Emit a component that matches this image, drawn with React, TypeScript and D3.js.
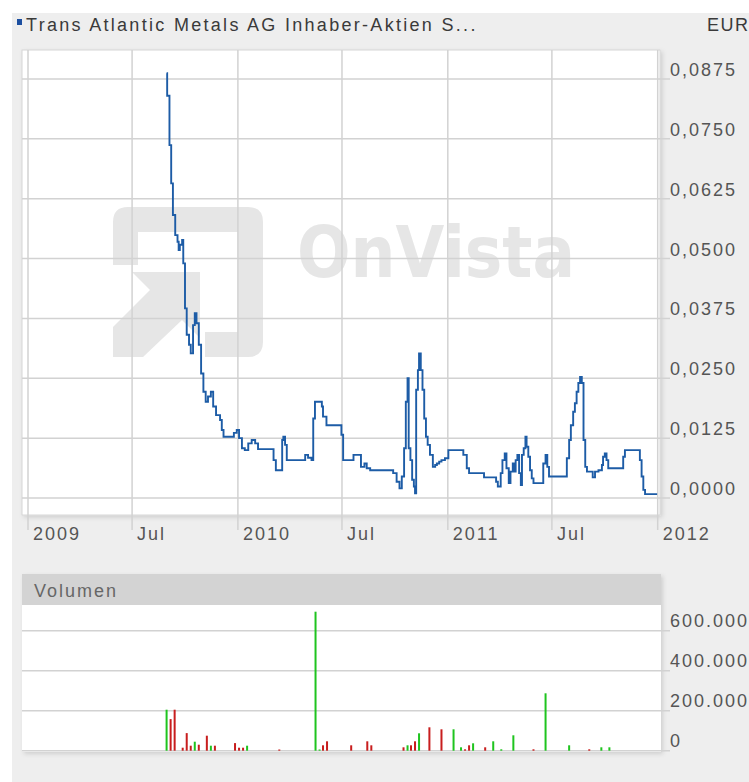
import React from 'react';
import * as d3 from 'd3';

// price series (step line), EUR
const priceDates = [
  '2009-08-30', '2009-08-31', '2009-09-04', '2009-09-07', '2009-09-10', '2009-09-14', '2009-09-18', '2009-09-20',
  '2009-09-22', '2009-09-26', '2009-09-28', '2009-10-01', '2009-10-04', '2009-10-08', '2009-10-11', '2009-10-15',
  '2009-10-18', '2009-10-21', '2009-10-25', '2009-10-29', '2009-11-02', '2009-11-06', '2009-11-10', '2009-11-15',
  '2009-11-19', '2009-11-24', '2009-12-01', '2009-12-04', '2009-12-07', '2009-12-25', '2009-12-30', '2010-01-03',
  '2010-01-08', '2010-01-13', '2010-01-19', '2010-01-25', '2010-01-31', '2010-02-05', '2010-03-04', '2010-03-08',
  '2010-03-19', '2010-03-21', '2010-03-24', '2010-03-27', '2010-04-28', '2010-05-03', '2010-05-09', '2010-05-12',
  '2010-05-15', '2010-05-27', '2010-05-29', '2010-06-04', '2010-06-30', '2010-07-03', '2010-07-21', '2010-08-03',
  '2010-08-09', '2010-08-13', '2010-08-19', '2010-09-28', '2010-10-04', '2010-10-09', '2010-10-13', '2010-10-17',
  '2010-10-20', '2010-10-23', '2010-10-25', '2010-10-28', '2010-10-31', '2010-11-03', '2010-11-05', '2010-11-07',
  '2010-11-10', '2010-11-12', '2010-11-15', '2010-11-18', '2010-11-21', '2010-11-24', '2010-11-27', '2010-12-01',
  '2010-12-06', '2010-12-10', '2010-12-13', '2010-12-17', '2010-12-21', '2010-12-27', '2011-01-02', '2011-01-28',
  '2011-02-03', '2011-02-07', '2011-03-05', '2011-03-26', '2011-03-29', '2011-04-03', '2011-04-06', '2011-04-10',
  '2011-04-13', '2011-04-17', '2011-04-20', '2011-04-24', '2011-04-26', '2011-04-29', '2011-05-02', '2011-05-05',
  '2011-05-08', '2011-05-10', '2011-05-13', '2011-05-16', '2011-05-18', '2011-05-21', '2011-05-24', '2011-05-27',
  '2011-05-30', '2011-06-16', '2011-06-20', '2011-06-23', '2011-06-26', '2011-07-27', '2011-07-31', '2011-08-03',
  '2011-08-07', '2011-08-10', '2011-08-13', '2011-08-16', '2011-08-19', '2011-08-22', '2011-08-25', '2011-08-28',
  '2011-08-31', '2011-09-10', '2011-09-14', '2011-09-20', '2011-09-26', '2011-09-28', '2011-10-01', '2011-10-04',
  '2011-10-07', '2011-11-02', '2011-11-05', '2011-12-01', '2011-12-04', '2011-12-07', '2011-12-10', '2011-12-31',
];
const priceValues = [
  0.0887, 0.0840, 0.0737, 0.0657, 0.0591, 0.0549, 0.0535, 0.0518,
  0.0529, 0.0539, 0.0490, 0.0396, 0.0341, 0.0320, 0.0302, 0.0361,
  0.0386, 0.0365, 0.0320, 0.0260, 0.0222, 0.0201, 0.0212, 0.0222,
  0.0191, 0.0173, 0.0163, 0.0142, 0.0128, 0.0136, 0.0142, 0.0125,
  0.0104, 0.0100, 0.0114, 0.0121, 0.0114, 0.0102, 0.0079, 0.0058,
  0.0121, 0.0128, 0.0111, 0.0079, 0.0090, 0.0084, 0.0079, 0.0166,
  0.0201, 0.0191, 0.0170, 0.0152, 0.0132, 0.0079, 0.0090, 0.0065,
  0.0072, 0.0062, 0.0058, 0.0052, 0.0034, 0.0020, 0.0045, 0.0104,
  0.0201, 0.0250, 0.0104, 0.0079, 0.0038, 0.0024, 0.0010, 0.0226,
  0.0267, 0.0302, 0.0267, 0.0226, 0.0166, 0.0128, 0.0111, 0.0090,
  0.0065, 0.0069, 0.0072, 0.0076, 0.0079, 0.0083, 0.0100, 0.0090,
  0.0062, 0.0052, 0.0043, 0.0034, 0.0024, 0.0052, 0.0079, 0.0093,
  0.0062, 0.0031, 0.0055, 0.0072, 0.0055, 0.0079, 0.0090, 0.0052,
  0.0027, 0.0090, 0.0104, 0.0128, 0.0107, 0.0086, 0.0058, 0.0041,
  0.0031, 0.0072, 0.0090, 0.0065, 0.0045, 0.0083, 0.0121, 0.0152,
  0.0180, 0.0198, 0.0222, 0.0240, 0.0253, 0.0240, 0.0121, 0.0065,
  0.0055, 0.0043, 0.0055, 0.0058, 0.0069, 0.0086, 0.0093, 0.0079,
  0.0062, 0.0086, 0.0100, 0.0079, 0.0045, 0.0017, 0.0008, 0.0008,
];

// volume bars
const volumeDates = [
  '2009-08-30', '2009-09-06', '2009-09-13', '2009-09-27', '2009-10-04', '2009-10-11', '2009-10-18', '2009-10-25',
  '2009-11-08', '2009-11-15', '2009-11-22', '2009-12-27', '2010-01-03', '2010-01-10', '2010-01-17', '2010-03-14',
  '2010-05-16', '2010-05-23', '2010-05-29', '2010-06-05', '2010-07-17', '2010-08-14', '2010-08-21', '2010-10-16',
  '2010-10-23', '2010-10-29', '2010-11-05', '2010-11-12', '2010-11-30', '2010-12-21', '2011-01-11', '2011-01-24',
  '2011-01-31', '2011-02-07', '2011-02-14', '2011-03-07', '2011-03-21', '2011-04-04', '2011-04-25', '2011-05-30',
  '2011-06-20', '2011-07-31', '2011-09-04', '2011-09-25', '2011-10-09',
];
const volumeValues = [
  205000, 158000, 205000, 15000, 88000, 25000, 45000, 30000,
  75000, 25000, 25000, 38000, 15000, 15000, 25000, 6000,
  695000, 6000, 27000, 47000, 27000, 47000, 27000, 17000,
  27000, 27000, 47000, 87000, 117000, 107000, 107000, 17000,
  7000, 27000, 37000, 17000, 47000, 7000, 77000, 7000,
  287000, 27000, 7000, 17000, 17000,
];
const volumeUp = [
  1, 0, 0, 0, 0, 0, 1, 0,
  0, 1, 0, 0, 0, 0, 1, 0,
  1, 1, 0, 0, 0, 0, 0, 0,
  1, 0, 0, 1, 0, 0, 1, 1,
  0, 0, 1, 0, 1, 1, 1, 0,
  1, 1, 0, 1, 1,
];

const priceTicks = [0, 0.0125, 0.025, 0.0375, 0.05, 0.0625, 0.075, 0.0875];
const volumeTicks = [0, 200000, 400000, 600000];
const xTickDates = ['2009-01-01', '2009-07-01', '2010-01-01', '2010-07-01', '2011-01-01', '2011-07-01', '2012-01-01'];
const xTickLabels = ['2009', 'Jul', '2010', 'Jul', '2011', 'Jul', '2012'];

const title = 'Trans Atlantic Metals AG Inhaber-Aktien S...';

const parse = d3.utcParse('%Y-%m-%d');
const de = d3.formatLocale({ decimal: ',', thousands: '.', grouping: [3], currency: ['', ' €'] });
const fmtPrice = de.format('.4f');
const fmtVol = de.format(',.0f');

const FONT = '"Liberation Sans", Arial, sans-serif';
const GRID = '#d2d2d2';
const LABEL = '#555';

export default function App() {
  const W = 749;
  const H = 782;

  // price panel box
  const pLeft = 22, pRight = 660, pTop = 50, pBottom = 515;
  // volume panel box
  const vTop = 574, vHeadBottom = 605, vBottom = 752;

  const x = d3.scaleUtc()
    .domain([parse('2009-01-01')!, parse('2012-01-01')!])
    .range([28, 657.7]);
  const yP = d3.scaleLinear().domain([0, 0.0875]).range([498, 79]);
  const yV = d3.scaleLinear().domain([0, 600000]).range([750.7, 630.7]);

  const prices = priceDates.map((d, i) => ({ date: parse(d)!, value: priceValues[i] }));
  const line = d3.line<{ date: Date; value: number }>()
    .x((d) => x(d.date))
    .y((d) => yP(d.value))
    .curve(d3.curveStepAfter);

  const txt = { fontFamily: FONT, fontSize: 18, letterSpacing: 2 } as const;

  return (
    <svg width={W} height={H} style={{ position: 'absolute', left: 0, top: 0 }}>
      <defs>
        <filter id="shadow" x="-5%" y="-5%" width="110%" height="110%">
          <feDropShadow dx="2" dy="2" stdDeviation="2" floodColor="#000" floodOpacity="0.13" />
        </filter>
      </defs>
      <rect width={W} height={H} fill="#fff" />
      <rect x={12} y={13} width={W - 12} height={H - 13} fill="#eeeeee" />

      {/* header */}
      <rect x={17} y={19} width={5} height={6} fill="#1c4fa0" />
      <text x={26} y={30.5} fill="#3a3a3a" {...txt} letterSpacing={2.3}>{title}</text>
      <text x={707} y={30.5} fill="#3a3a3a" {...txt} letterSpacing={1.5}>EUR</text>

      {/* price panel */}
      <rect x={pLeft} y={pTop} width={pRight - pLeft} height={pBottom - pTop} fill="#fff" stroke="#d6d6d6" strokeWidth={1} filter="url(#shadow)" />

      {/* watermark */}
      <g fill="#e6e6e6" stroke="none">
        <path d="M113,265 L113,222 Q113,207 128,207 L248,207 Q263,207 263,222 L263,342 Q263,357 248,357 L205,357 L205,332 L238,332 L238,232 L138,232 L138,265 Z" />
        <path d="M200,272 L132,272 L150,290 L113,327 L113,357 L143,357 L182,320 L200,338 Z" />
        <text x={297} y={277} fontFamily='"DejaVu Sans", sans-serif' fontWeight="bold" fontSize={72} textLength={278} lengthAdjust="spacingAndGlyphs">OnVista</text>
      </g>

      {/* grid */}
      {xTickDates.map((d) => (
        <line key={d} x1={x(parse(d)!)} x2={x(parse(d)!)} y1={pTop} y2={530} stroke={GRID} strokeWidth={1.5} />
      ))}
      {priceTicks.map((t) => (
        <line key={t} x1={pLeft} x2={670} y1={yP(t)} y2={yP(t)} stroke={GRID} strokeWidth={1.5} />
      ))}

      <path d={line(prices) ?? ''} fill="none" stroke="#1d5ca6" strokeWidth={1.9} />

      {priceTicks.map((t) => (
        <text key={t} x={670} y={yP(t) - 3} fill={LABEL} {...txt}>{fmtPrice(t)}</text>
      ))}
      {xTickDates.map((d, i) => (
        <text key={d} x={x(parse(d)!) + 5} y={539.5} fill={LABEL} {...txt}>{xTickLabels[i]}</text>
      ))}

      {/* volume panel */}
      <rect x={pLeft} y={vTop} width={639} height={vBottom - vTop} fill="#fff" filter="url(#shadow)" />
      <rect x={pLeft} y={vTop} width={639} height={vHeadBottom - vTop} fill="#d3d3d3" />
      <text x={34} y={596.5} fill="#666" {...txt}>Volumen</text>
      {volumeTicks.map((t) => (
        <line key={t} x1={pLeft} x2={670} y1={yV(t)} y2={yV(t)} stroke={GRID} strokeWidth={1.5} />
      ))}
      {volumeDates.map((d, i) => {
        const cx = x(parse(d)!);
        return (
          <rect key={d} x={cx - 1} y={yV(volumeValues[i])} width={2}
            height={yV(0) - yV(volumeValues[i])}
            fill={volumeUp[i] ? '#1fc41f' : '#c81e1e'} />
        );
      })}
      {volumeTicks.map((t) => (
        <text key={t} x={670} y={yV(t) - 3.5} fill={LABEL} {...txt}>{fmtVol(t)}</text>
      ))}
    </svg>
  );
}
